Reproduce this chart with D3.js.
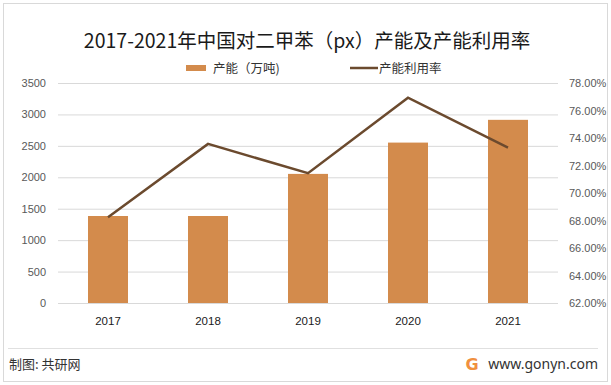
<!DOCTYPE html>
<html lang="zh">
<head>
<meta charset="UTF-8">
<title>2017-2021年中国对二甲苯（px）产能及产能利用率</title>
<script src="https://cdnjs.cloudflare.com/ajax/libs/d3/7.8.5/d3.min.js"></script>
<style>
    body { margin: 0; background: #fff; }
    #chart { width: 611px; height: 385px; }
    text { font-family: "Noto Sans CJK SC", "Noto Sans", sans-serif; }
    .tick-label { font-family: "Liberation Sans", "DejaVu Sans", sans-serif; font-size: 11px; fill: #595959; }
    .x-label { font-family: "Liberation Sans", "DejaVu Sans", sans-serif; font-size: 11.5px; fill: #1a1a1a; }
</style>
</head>
<body>
<div id="chart"></div>
<script>
const years = ["2017", "2018", "2019", "2020", "2021"];
const capacity = [1384, 1384, 2054, 2552, 2914];          // 产能（万吨）
const utilization = [68.23, 73.57, 71.44, 76.93, 73.3];   // 产能利用率 %
const leftTicks = [0, 500, 1000, 1500, 2000, 2500, 3000, 3500];
const rightTicks = [62, 64, 66, 68, 70, 72, 74, 76, 78];

const W = 611, H = 385;
const margin = {top: 83, right: 53, bottom: 82, left: 58};
const width = W - margin.left - margin.right;
const height = H - margin.top - margin.bottom;

const svg = d3.select('#chart').append('svg')
    .attr('width', W).attr('height', H);

// outer frame
svg.append('rect')
    .attr('x', 3.5).attr('y', 3.5)
    .attr('width', W - 7).attr('height', H - 7)
    .attr('fill', '#fff').attr('stroke', '#d9d9d9');

svg.append('text')
    .attr('x', 307).attr('y', 48)
    .attr('text-anchor', 'middle')
    .style('font-size', '19.5px').style('fill', '#1a1a1a')
    .text('2017-2021年中国对二甲苯（px）产能及产能利用率');

// legend
const lg = svg.append('g').attr('transform', 'translate(0,68)');
lg.append('rect').attr('x', 186).attr('y', -3).attr('width', 20).attr('height', 6).attr('fill', '#d38b4c');
lg.append('text').attr('x', 213).attr('y', 4.5).style('font-size', '12.5px').style('fill', '#333').text('产能（万吨)');
lg.append('line').attr('x1', 350).attr('x2', 378).attr('y1', 0).attr('y2', 0)
    .attr('stroke', '#6b4a2e').attr('stroke-width', 2.5);
lg.append('text').attr('x', 379).attr('y', 4.5).style('font-size', '12.5px').style('fill', '#333').text('产能利用率');

const g = svg.append('g').attr('transform', `translate(${margin.left},${margin.top})`);

const x = d3.scaleBand().domain(years).range([0, width]).padding(0);
const yL = d3.scaleLinear().domain([0, 3500]).range([height, 0]);
const yR = d3.scaleLinear().domain([62, 78]).range([height, 0]);

// gridlines
g.append('g')
    .call(d3.axisLeft(yL).tickValues(leftTicks).tickSize(-width).tickFormat(''))
    .call(a => a.select('.domain').remove())
    .call(a => a.selectAll('line').attr('stroke', '#d9d9d9'));

// left axis labels
g.append('g')
    .call(d3.axisLeft(yL).tickValues(leftTicks).tickSize(0).tickPadding(12).tickFormat(d3.format('d')))
    .call(a => a.select('.domain').remove())
    .call(a => a.selectAll('text').attr('class', 'tick-label').attr('fill', null));

// right axis labels
g.append('g')
    .attr('transform', `translate(${width},0)`)
    .call(d3.axisRight(yR).tickValues(rightTicks).tickSize(0).tickPadding(11)
        .tickFormat(d => d.toFixed(2) + '%'))
    .call(a => a.select('.domain').remove())
    .call(a => a.selectAll('text').attr('class', 'tick-label').attr('fill', null));

// x axis labels
g.append('g')
    .attr('transform', `translate(0,${height})`)
    .call(d3.axisBottom(x).tickSize(0).tickPadding(14))
    .call(a => a.select('.domain').remove())
    .call(a => a.selectAll('text').attr('class', 'x-label').attr('fill', null));

// bars
const barW = x.bandwidth() * 0.4;
g.selectAll('.bar').data(capacity).enter().append('rect')
    .attr('class', 'bar')
    .attr('x', (d, i) => x(years[i]) + (x.bandwidth() - barW) / 2)
    .attr('y', d => yL(d))
    .attr('width', barW)
    .attr('height', d => height - yL(d))
    .attr('fill', '#d38b4c');

// line
const line = d3.line()
    .x((d, i) => x(years[i]) + x.bandwidth() / 2)
    .y(d => yR(d));
g.append('path').datum(utilization)
    .attr('d', line)
    .attr('fill', 'none')
    .attr('stroke', '#6b4a2e')
    .attr('stroke-width', 2.5);

// footer
svg.append('line').attr('x1', 8).attr('x2', 598).attr('y1', 348.5).attr('y2', 348.5)
    .attr('stroke', '#e0e0e0');
svg.append('text').attr('x', 9).attr('y', 369)
    .style('font-size', '13px').style('fill', '#333').text('制图: 共研网');
svg.append('text').attr('x', 472).attr('y', 370).attr('text-anchor', 'middle')
    .style('font-family', '"DejaVu Sans", sans-serif').style('font-weight', 'bold')
    .style('font-size', '16px').style('fill', '#f0903f').text('G');
svg.append('text').attr('x', 598).attr('y', 369).attr('text-anchor', 'end')
    .style('font-family', '"Noto Sans", sans-serif')
    .style('font-size', '14px').style('fill', '#333').text('www.gonyn.com');
</script>
</body>
</html>
